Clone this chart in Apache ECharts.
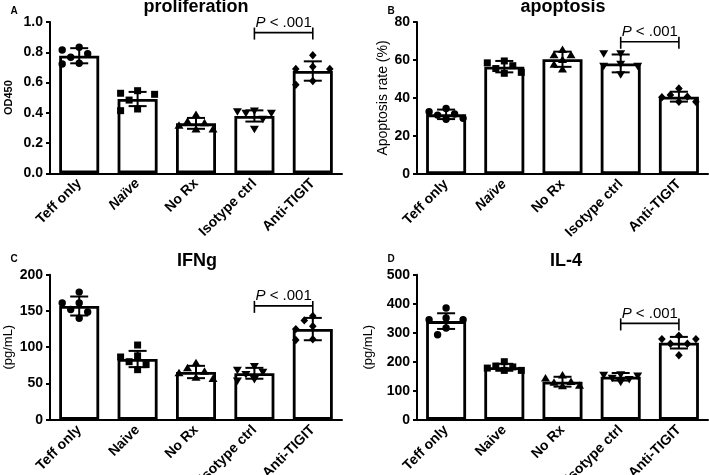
<!DOCTYPE html>
<html><head><meta charset="utf-8">
<script src="https://cdn.jsdelivr.net/npm/echarts@6/dist/echarts.min.js"></script>
<style>html,body{margin:0;padding:0;background:#fff}#c{width:709px;height:475px}</style>
</head><body><div id="c"></div>
<script>
// ---------- data ----------
const categoriesAB = ['Teff only', 'Naïve', 'No Rx', 'Isotype ctrl', 'Anti-TIGIT'];
const categoriesCD = ['Teff only', 'Naive', 'No Rx', 'Isotype ctrl', 'Anti-TIGIT'];

const panelTitles = ['proliferation', 'apoptosis', 'IFNg', 'IL-4'];
const panelLetters = ['A', 'B', 'C', 'D'];
const yNames = ['OD450', 'Apoptosis rate (%)', '(pg/mL)', '(pg/mL)'];
const yMax = [1.0, 80, 200, 500];
const yInterval = [0.2, 20, 50, 100];
const pLabel = 'P < .001';
const bracketLevel = [0.93, 69.6, 157, 332];

// A: proliferation
const profMean = [0.777, 0.491, 0.330, 0.379, 0.676];
const profSD = [0.050, 0.047, 0.036, 0.037, 0.064];
const profPoints = [
  [0.833, 0.815, 0.790, 0.767, 0.727, 0.722],
  [0.546, 0.529, 0.522, 0.484, 0.425, 0.414],
  [0.385, 0.340, 0.330, 0.315, 0.290, 0.290],
  [0.415, 0.410, 0.400, 0.400, 0.360, 0.295],
  [0.780, 0.705, 0.690, 0.690, 0.610, 0.585]
];
// B: apoptosis
const apopMean = [31.4, 56.5, 60.4, 58.2, 40.7];
const apopSD = [2.5, 3.0, 4.0, 4.7, 2.6];
const apopPoints = [
  [34.5, 32.8, 31.6, 31.0, 29.3, 28.8],
  [59.5, 58.5, 57.0, 55.5, 53.5, 53.0],
  [65.3, 62.5, 62.5, 60.0, 57.5, 55.0],
  [63.5, 63.5, 58.0, 57.0, 57.0, 52.5],
  [45.0, 41.6, 40.7, 40.4, 38.0, 38.0]
];
// C: IFNg
const ifnMean = [156.8, 83.7, 65.8, 64.0, 125.0];
const ifnSD = [13.1, 11.2, 8.5, 7.5, 15.4];
const ifnPoints = [
  [176, 161, 161, 152, 148.5, 140],
  [103, 88, 86.5, 80, 76, 69],
  [78, 71, 66, 64, 58, 56],
  [74, 69, 66, 63, 56, 54],
  [143, 137, 129, 125, 111, 110]
];
// D: IL-4
const il4Mean = [340, 180.7, 131, 148, 265.5];
const il4SD = [27, 12, 17, 13, 20];
const il4Points = [
  [385, 351, 345, 345, 316, 293],
  [200, 185, 182, 178, 170, 170],
  [152, 142, 130, 127, 117, 115],
  [157, 155, 152, 145, 140, 131],
  [290, 278, 278, 262, 262, 222]
];

// ---------- layout / style ----------
const FONT = 'Arial, "Liberation Sans", sans-serif';
const SHAPES = ['circle', 'square', 'triangle', 'triangleDown', 'diamond'];
const STEP = 8.5, MIN_D = 9.5, CAP = 18;

const means = [profMean, apopMean, ifnMean, il4Mean];
const sds = [profSD, apopSD, ifnSD, il4SD];
const points = [profPoints, apopPoints, ifnPoints, il4Points];
const cats = [categoriesAB, categoriesAB, categoriesCD, categoriesCD];

const grids = [
  {left: 50, top: 22, width: 292, height: 151.3},
  {left: 417, top: 22, width: 291, height: 152},
  {left: 50, top: 274.7, width: 292, height: 145},
  {left: 417, top: 274.7, width: 291, height: 145}
].map(g => Object.assign({outerBoundsMode: 'none', containLabel: false}, g));
const nameGaps = [36, 25, 35, 42];
const nameStyles = [
  {fontSize: 11, fontWeight: 'bold'},
  {fontSize: 14, fontWeight: 'normal'},
  {fontSize: 13, fontWeight: 'normal'},
  {fontSize: 13, fontWeight: 'normal'}
];
const titlePos = [[196, 7], [563, 7], [197, 261], [566, 261]];
const letterPos = [[14, 11], [391, 11], [14, 259], [391, 259]];

function shapeFor(kind, x, y) {
  const st = {fill: '#000'};
  if (kind === 'circle') return {type: 'circle', shape: {cx: x, cy: y, r: 3.7}, style: st};
  if (kind === 'square') return {type: 'rect', shape: {x: x - 3.5, y: y - 3.5, width: 7, height: 7}, style: st};
  if (kind === 'triangle') return {type: 'polygon', shape: {points: [[x, y - 4.5], [x + 4.5, y + 3], [x - 4.5, y + 3]]}, style: st};
  if (kind === 'triangleDown') return {type: 'polygon', shape: {points: [[x, y + 4.5], [x + 4.5, y - 3], [x - 4.5, y - 3]]}, style: st};
  return {type: 'polygon', shape: {points: [[x, y - 4.2], [x + 3.8, y], [x, y + 4.2], [x - 3.8, y]]}, style: st};
}

const xAxes = [], yAxes = [], series = [], graphics = [];
for (let g = 0; g < 4; g++) {
  xAxes.push({
    gridIndex: g, type: 'category', data: cats[g],
    axisLine: {lineStyle: {color: '#000', width: 2}},
    axisTick: {alignWithLabel: true, length: 4, lineStyle: {color: '#000', width: 2}},
    axisLabel: {
      rotate: 45, interval: 0, margin: 8, color: '#000', fontWeight: 'bold', fontSize: 14, fontFamily: FONT,
      formatter: v => (g < 2 && v === 'Naïve') ? '{i|' + v + '}' : v,
      rich: {i: {fontStyle: 'italic', fontWeight: 'bold', fontSize: 14, fontFamily: FONT, color: '#000'}}
    }
  });
  yAxes.push({
    gridIndex: g, type: 'value', min: 0, max: yMax[g], interval: yInterval[g],
    axisLine: {show: true, lineStyle: {color: '#000', width: 2}},
    axisTick: {show: true, length: 4, lineStyle: {color: '#000', width: 2}},
    splitLine: {show: false},
    axisLabel: {
      color: '#000', fontWeight: 'bold', fontSize: 14, margin: 7, fontFamily: FONT,
      formatter: v => g === 0 ? v.toFixed(1) : String(v)
    },
    name: yNames[g], nameLocation: 'middle', nameGap: nameGaps[g],
    nameTextStyle: Object.assign({color: '#000', fontFamily: FONT}, nameStyles[g])
  });

  // bars
  series.push({
    type: 'bar', xAxisIndex: g, yAxisIndex: g, data: means[g], barWidth: 40,
    itemStyle: {color: '#fff', borderColor: '#000', borderWidth: 2.8},
    silent: true, z: 2
  });
  // error bars (mean ± SD)
  series.push({
    type: 'custom', xAxisIndex: g, yAxisIndex: g, z: 3,
    data: means[g].map((m, c) => [c, m, sds[g][c]]),
    renderItem(params, api) {
      const c = api.value(0), m = api.value(1), s = api.value(2);
      const top = api.coord([c, m + s]), bot = api.coord([c, m - s]);
      const x = top[0], w = CAP / 2;
      const ls = {stroke: '#000', lineWidth: 2};
      return {type: 'group', children: [
        {type: 'line', shape: {x1: x, y1: top[1], x2: x, y2: bot[1]}, style: ls},
        {type: 'line', shape: {x1: x - w, y1: top[1], x2: x + w, y2: top[1]}, style: ls},
        {type: 'line', shape: {x1: x - w, y1: bot[1], x2: x + w, y2: bot[1]}, style: ls}
      ]};
    }
  });
  // points (simple beeswarm spread kept within the bar)
  const pts = points[g];
  const pdata = [];
  pts.forEach((arr, c) => arr.forEach((v, k) => pdata.push([c, v, k])));
  series.push({
    type: 'custom', xAxisIndex: g, yAxisIndex: g, z: 4, data: pdata,
    renderItem(params, api) {
      const c = api.value(0), k = api.value(2);
      const arr = pts[c];
      const xc = api.coord([c, 0])[0];
      const placed = [];
      for (let j = 0; j < arr.length; j++) {
        const y = api.coord([c, arr[j]])[1];
        let best = xc, bestD = -1;
        for (const m of [0, -1, 1, -2, 2]) {
          const x = xc + m * STEP;
          const d = placed.length ? Math.min(...placed.map(p => Math.hypot(p[0] - x, p[1] - y))) : Infinity;
          if (d >= MIN_D) { best = x; bestD = d; break; }
          if (d > bestD) { bestD = d; best = x; }
        }
        placed.push([best, y]);
      }
      return shapeFor(SHAPES[c], placed[k][0], placed[k][1]);
    }
  });
  // significance bracket
  series.push({
    type: 'custom', xAxisIndex: g, yAxisIndex: g, z: 5,
    data: [[3, 4, bracketLevel[g]]],
    renderItem(params, api) {
      const a = api.coord([api.value(0), api.value(2)]);
      const b = api.coord([api.value(1), api.value(2)]);
      const y = a[1];
      const ls = {stroke: '#000', lineWidth: 1.6};
      return {type: 'group', children: [
        {type: 'line', shape: {x1: a[0], y1: y, x2: b[0], y2: y}, style: ls},
        {type: 'line', shape: {x1: a[0], y1: y - 5, x2: a[0], y2: y + 7}, style: ls},
        {type: 'line', shape: {x1: b[0], y1: y - 5, x2: b[0], y2: y + 7}, style: ls},
        {type: 'text', x: (a[0] + b[0]) / 2, y: y - 10, style: {
          text: '{i|' + pLabel.slice(0, 1) + '}' + pLabel.slice(1),
          align: 'center', verticalAlign: 'middle', fill: '#000',
          fontSize: 15, fontFamily: FONT,
          rich: {i: {fontStyle: 'italic', fontSize: 15, fontFamily: FONT, fill: '#000'}}
        }}
      ]};
    }
  });

  graphics.push({
    type: 'text', x: titlePos[g][0], y: titlePos[g][1],
    style: {text: panelTitles[g], align: 'center', verticalAlign: 'middle', fill: '#000',
      fontSize: 18, fontWeight: 'bold', fontFamily: FONT}
  });
  graphics.push({
    type: 'text', x: letterPos[g][0], y: letterPos[g][1],
    style: {text: panelLetters[g], align: 'center', verticalAlign: 'middle', fill: '#000',
      fontSize: 10, fontWeight: 'bold', fontFamily: FONT}
  });
}

const chart = echarts.init(document.getElementById('c'), null, {renderer: 'canvas'});
chart.setOption({
  animation: false,
  backgroundColor: '#fff',
  textStyle: {fontFamily: FONT},
  grid: grids,
  xAxis: xAxes,
  yAxis: yAxes,
  series: series,
  graphic: graphics
});
</script>
</body></html>
